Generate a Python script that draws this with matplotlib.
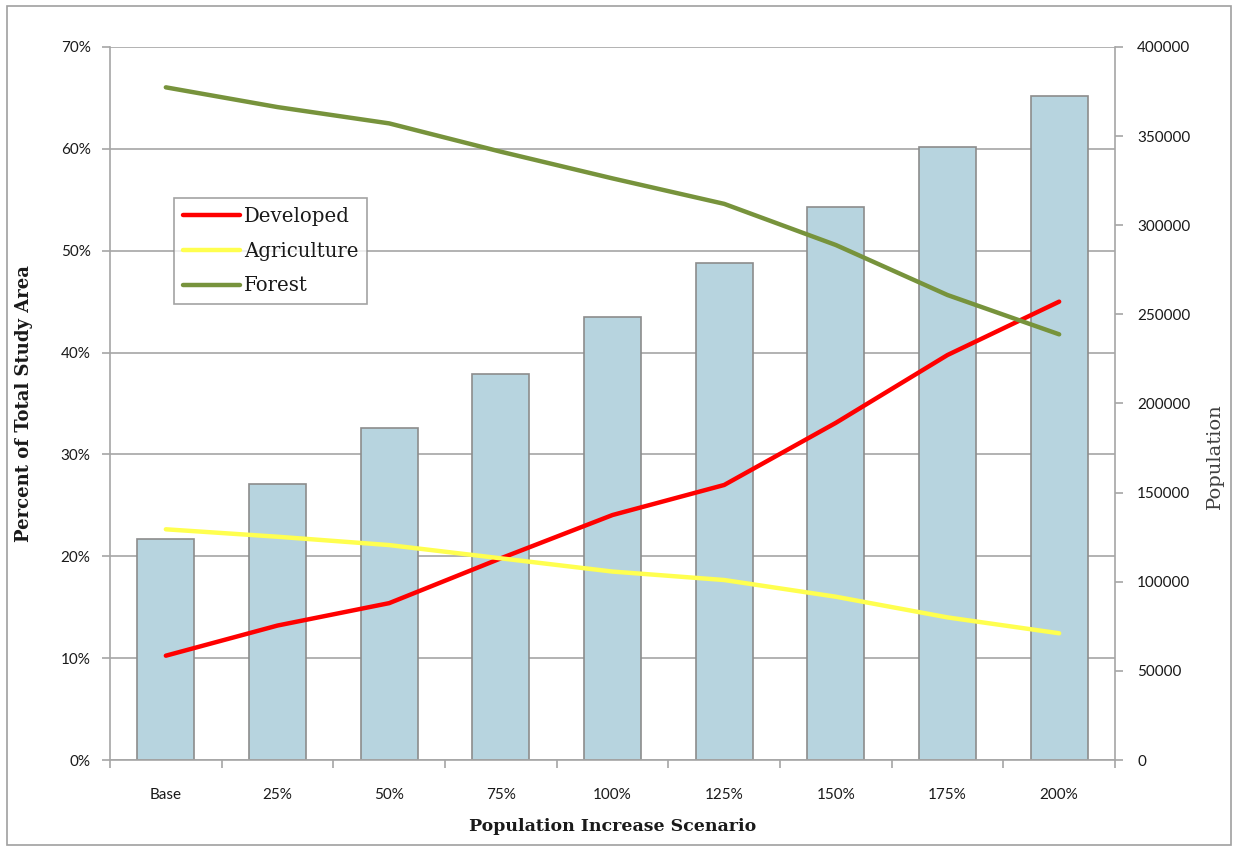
import matplotlib
matplotlib.use("Agg")
import matplotlib.pyplot as plt
from matplotlib.patches import Rectangle
from matplotlib.ticker import FuncFormatter, MultipleLocator

# Scenario data
scenarios = ["Base", "25%", "50%", "75%", "100%", "125%", "150%", "175%", "200%"]
population = [123800, 155000, 186100, 216600, 248700, 279000, 310100, 344100, 372700]
developed = [10.24, 13.2, 15.4, 19.8, 24.05, 27.0, 33.1, 39.76, 45.0]
agriculture = [22.65, 21.92, 21.1, 19.8, 18.5, 17.67, 16.03, 14.0, 12.44]
forest = [66.04, 64.1, 62.5, 59.72, 57.1, 54.6, 50.56, 45.65, 41.79]

W, H = 1233, 846
fig = plt.figure(figsize=(W / 100, H / 100), dpi=100)

serif = ["DejaVu Serif"]
sans = ["Lato", "DejaVu Sans"]
grid_c = "#A6A6A6"
text_c = "#1A1A1A"

# Outer chart border
fig.patches.append(Rectangle((7 / W, 1 - 845 / H), (1231 - 7) / W, (845 - 6) / H,
                             transform=fig.transFigure, fill=False,
                             edgecolor="#A0A0A0", linewidth=1.2))

ax_pct = fig.add_axes([110 / W, 1 - 760 / H, (1115 - 110) / W, (760 - 47) / H])
ax_pop = ax_pct.twinx()

x = list(range(len(scenarios)))

# Population bars on the right axis, drawn underneath the lines
ax_pop.set_zorder(1)
ax_pct.set_zorder(2)
ax_pct.patch.set_visible(False)
ax_pop.patch.set_visible(True)
ax_pop.patch.set_facecolor("white")

ax_pop.bar(x, population, width=0.51, color="#B7D4DF", edgecolor="#8C8C8C",
           linewidth=1.2, zorder=3)
ax_pop.set_ylim(0, 400000)
ax_pop.yaxis.set_major_locator(MultipleLocator(50000))
ax_pop.yaxis.set_major_formatter(FuncFormatter(lambda v, p: f"{int(v)}"))

# Horizontal gridlines follow the percent axis; drawn on the bar axes so they sit behind bars
for g in range(0, 71, 10):
    ax_pop.axhline(g / 70 * 400000, color=grid_c, linewidth=1.2, zorder=1)

ax_pct.plot(x, developed, color="#FF0000", linewidth=3.2, label="Developed",
            solid_capstyle="round", zorder=4)
ax_pct.plot(x, agriculture, color="#FFFF4F", linewidth=3.2, label="Agriculture",
            solid_capstyle="round", zorder=4)
ax_pct.plot(x, forest, color="#77933C", linewidth=3.2, label="Forest",
            solid_capstyle="round", zorder=4)

ax_pct.set_ylim(0, 70)
ax_pct.set_xlim(-0.5, len(scenarios) - 0.5)
ax_pct.yaxis.set_major_locator(MultipleLocator(10))
ax_pct.yaxis.set_major_formatter(FuncFormatter(lambda v, p: f"{int(v)}%"))

# Category labels with tick marks between categories
ax_pct.set_xticks(x)
ax_pct.set_xticklabels(scenarios)
ax_pct.tick_params(axis="x", length=0, pad=20)
ax_pct.set_xticks([i + 0.5 for i in range(-1, len(scenarios))], minor=True)
ax_pct.tick_params(axis="x", which="minor", length=6, color=grid_c, width=1.2)

for a in (ax_pct, ax_pop):
    for s in a.spines.values():
        s.set_visible(False)
ax_pct.spines["left"].set_visible(True)
ax_pct.spines["left"].set_color(grid_c)
ax_pct.spines["left"].set_linewidth(1.2)
ax_pct.spines["bottom"].set_visible(True)
ax_pct.spines["bottom"].set_color(grid_c)
ax_pct.spines["bottom"].set_linewidth(1.2)
ax_pop.spines["right"].set_visible(True)
ax_pop.spines["right"].set_color(grid_c)
ax_pop.spines["right"].set_linewidth(1.2)

ax_pct.tick_params(axis="y", length=6, width=1.2, color=grid_c, pad=8,
                   labelsize=11, labelcolor=text_c)
ax_pop.tick_params(axis="y", length=6, width=1.2, color=grid_c, pad=10,
                   labelsize=11, labelcolor=text_c)
ax_pct.tick_params(axis="x", labelsize=11, labelcolor=text_c)
for lab in ax_pct.get_xticklabels() + ax_pct.get_yticklabels() + ax_pop.get_yticklabels():
    lab.set_family(sans)

ax_pct.set_ylabel("Percent of Total Study Area", family=serif, fontweight="bold",
                  fontsize=13, color=text_c, labelpad=20)
ax_pct.set_xlabel("Population Increase Scenario", family=serif, fontweight="bold",
                  fontsize=12.5, color=text_c, labelpad=12)
fig.text(1215 / W, 1 - 456 / H, "Population", family=serif, fontsize=14,
         color="#404040", rotation=90, ha="center", va="center")

leg = ax_pct.legend(loc="upper left", bbox_to_anchor=((174 - 110) / (1115 - 110), (760 - 198) / (760 - 47)),
                    frameon=True, fancybox=False, edgecolor="#8C8C8C",
                    prop={"family": serif, "size": 14.2}, handlelength=2.9,
                    handletextpad=0.2, labelspacing=0.8, borderpad=0.45,
                    borderaxespad=0)
leg.get_frame().set_linewidth(1.2)
for t in leg.get_texts():
    t.set_color(text_c)

fig.savefig("out.png", dpi=100, facecolor="white")
